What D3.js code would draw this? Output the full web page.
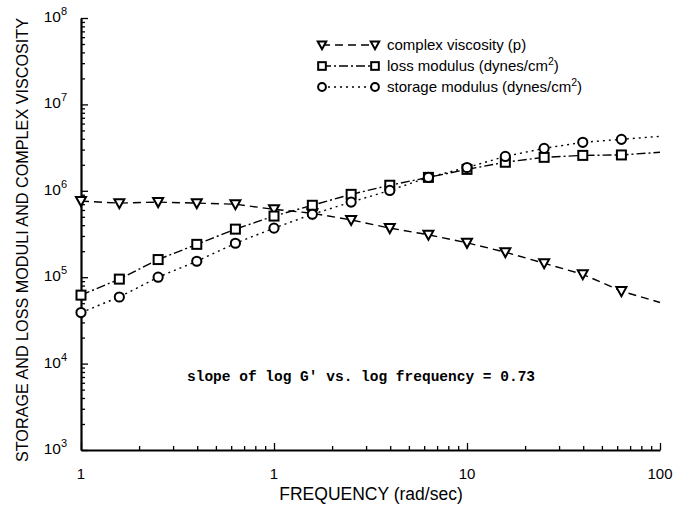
<!DOCTYPE html>
<html><head><meta charset="utf-8">
<script src="https://cdn.jsdelivr.net/npm/d3@7"></script>
<style>body{margin:0;background:#fff}</style>
</head><body>
<svg id="c" width="680" height="508"></svg>
<script>
const freq = [0.1, 0.158, 0.251, 0.398, 0.631, 1, 1.58, 2.51, 3.98, 6.31, 10, 15.8, 25.1, 39.8, 63.1];
const viscosity = [7.6e5, 7.2e5, 7.4e5, 7.2e5, 7.0e5, 6.1e5, 5.5e5, 4.6e5, 3.7e5, 3.1e5, 2.5e5, 1.95e5, 1.45e5, 1.08e5, 6.9e4];
const lossModulus = [6.2e4, 9.5e4, 1.6e5, 2.4e5, 3.6e5, 5.1e5, 6.8e5, 9.1e5, 1.16e6, 1.43e6, 1.77e6, 2.14e6, 2.44e6, 2.57e6, 2.6e6];
const storageModulus = [3.9e4, 5.9e4, 1.0e5, 1.53e5, 2.47e5, 3.7e5, 5.35e5, 7.4e5, 1.01e6, 1.43e6, 1.86e6, 2.5e6, 3.1e6, 3.64e6, 3.94e6];
// line-only continuation to the right edge
const endFreq = 100;
const endValues = {viscosity: 5.1e4, loss: 2.79e6, storage: 4.27e6};
const xTickValues = [0.1, 1, 10, 100];
const xTickLabels = ["1", "1", "10", "100"];
const yTickExponents = [3, 4, 5, 6, 7, 8];
const legendLabels = [
  ["complex viscosity (p)", ""],
  ["loss modulus (dynes/cm", "2", ")"],
  ["storage modulus (dynes/cm", "2", ")"]
];
const annotation = "slope of log G\u2032 vs. log frequency = 0.73";
const xTitle = "FREQUENCY (rad/sec)";
const yTitle = "STORAGE AND LOSS MODULI AND COMPLEX VISCOSITY";

const svg = d3.select("#c");
const x = d3.scaleLog().domain([0.1, 100]).range([81, 660]);
const y = d3.scaleLog().domain([1e3, 1e8]).range([450, 18]);
const font = "'Liberation Sans', Arial, Helvetica, sans-serif";

// axes
const minorX = [];
[0.1, 1, 10].forEach(d => { for (let k = 1; k <= 9; k++) minorX.push(d * k); });
minorX.push(100);
const xAxis = d3.axisBottom(x).tickValues(minorX)
  .tickSizeInner(-4).tickSizeOuter(0).tickFormat("");
const gx = svg.append("g").attr("transform", `translate(0,${y(1e3)})`).call(xAxis);
gx.selectAll(".tick line").attr("stroke-width", 1.3)
  .filter(d => xTickValues.includes(d)).attr("y2", -7);
gx.select(".domain").attr("stroke-width", 2);

const minorY = [];
[1e3, 1e4, 1e5, 1e6, 1e7].forEach(d => { for (let k = 1; k <= 9; k++) minorY.push(d * k); });
minorY.push(1e8);
const yAxis = d3.axisLeft(y).tickValues(minorY)
  .tickSizeInner(-4).tickSizeOuter(0).tickFormat("");
const gy = svg.append("g").attr("transform", `translate(${x(0.1)},0)`).call(yAxis);
gy.selectAll(".tick line").attr("stroke-width", 1.3)
  .filter(d => Math.abs(Math.log10(d) - Math.round(Math.log10(d))) < 1e-9).attr("x2", 7);
gy.select(".domain").attr("stroke-width", 2.2);

// tick labels
svg.append("g").selectAll("text").data(xTickValues).join("text")
  .attr("x", d => x(d)).attr("y", y(1e3) + 29)
  .attr("text-anchor", "middle").attr("font-family", font).attr("font-size", 15)
  .text((d, i) => xTickLabels[i]);

const yl = svg.append("g").selectAll("text").data(yTickExponents).join("text")
  .attr("x", x(0.1) - 14).attr("y", d => y(Math.pow(10, d)) + 4)
  .attr("text-anchor", "end").attr("font-family", font).attr("font-size", 15.5);
yl.append("tspan").text("10");
yl.append("tspan").attr("dy", -7).attr("font-size", 11).text(d => d);

// titles
svg.append("text").attr("x", 371).attr("y", 500).attr("text-anchor", "middle")
  .attr("font-family", font).attr("font-size", 17.5).text(xTitle);
svg.append("text").attr("transform", `translate(28,${240}) rotate(-90)`)
  .attr("text-anchor", "middle").attr("font-family", font).attr("font-size", 16.2)
  .text(yTitle);

// series
const series = [
  {key: "viscosity", values: viscosity, dash: "8,5", marker: "tri"},
  {key: "loss", values: lossModulus, dash: "9,3,2,3", marker: "sq"},
  {key: "storage", values: storageModulus, dash: "2,4", marker: "circ"}
];
const line = d3.line().x(d => x(d[0])).y(d => y(d[1]));

function drawMarker(g, type, cx, cy, s) {
  s = s || 1;
  if (type === "tri") {
    g.append("path").attr("d", `M${cx-5*s},${cy-4*s}L${cx+5*s},${cy-4*s}L${cx},${cy+5*s}Z`)
      .attr("fill", "#fff").attr("stroke", "#000").attr("stroke-width", 2);
  } else if (type === "sq") {
    g.append("rect").attr("x", cx - 4.5*s).attr("y", cy - 4.5*s).attr("width", 9*s).attr("height", 9*s)
      .attr("fill", "#fff").attr("stroke", "#000").attr("stroke-width", 2);
  } else {
    g.append("circle").attr("cx", cx).attr("cy", cy).attr("r", 4.6*s)
      .attr("fill", "#fff").attr("stroke", "#000").attr("stroke-width", 2);
  }
}

series.forEach(s => {
  const pts = freq.map((f, i) => [f, s.values[i]]);
  pts.push([endFreq, endValues[s.key]]);
  svg.append("path").datum(pts).attr("d", line)
    .attr("fill", "none").attr("stroke", "#000").attr("stroke-width", 1.4)
    .attr("stroke-dasharray", s.dash);
});
series.forEach(s => {
  const g = svg.append("g");
  freq.forEach((f, i) => drawMarker(g, s.marker, x(f), y(s.values[i])));
});

// legend
const lg = svg.append("g");
series.forEach((s, i) => {
  const ly = 45 + i * 21;
  lg.append("line").attr("x1", 322).attr("x2", 375).attr("y1", ly).attr("y2", ly)
    .attr("stroke", "#000").attr("stroke-width", 1.4).attr("stroke-dasharray", s.dash);
  drawMarker(lg, s.marker, 322, ly, 0.85);
  drawMarker(lg, s.marker, 375, ly, 0.85);
  const t = lg.append("text").attr("x", 387).attr("y", ly + 5)
    .attr("font-family", font).attr("font-size", 15);
  const parts = legendLabels[i];
  t.append("tspan").text(parts[0]);
  if (parts[1]) {
    t.append("tspan").attr("dy", -6).attr("font-size", 10.5).text(parts[1]);
    t.append("tspan").attr("dy", 6).text(parts[2]);
  }
});

// annotation
svg.append("text").attr("x", 187).attr("y", 381)
  .attr("font-family", "'Liberation Mono', 'DejaVu Sans Mono', monospace")
  .attr("font-size", 14.5).attr("font-weight", "bold").text(annotation);
</script>
</body></html>
